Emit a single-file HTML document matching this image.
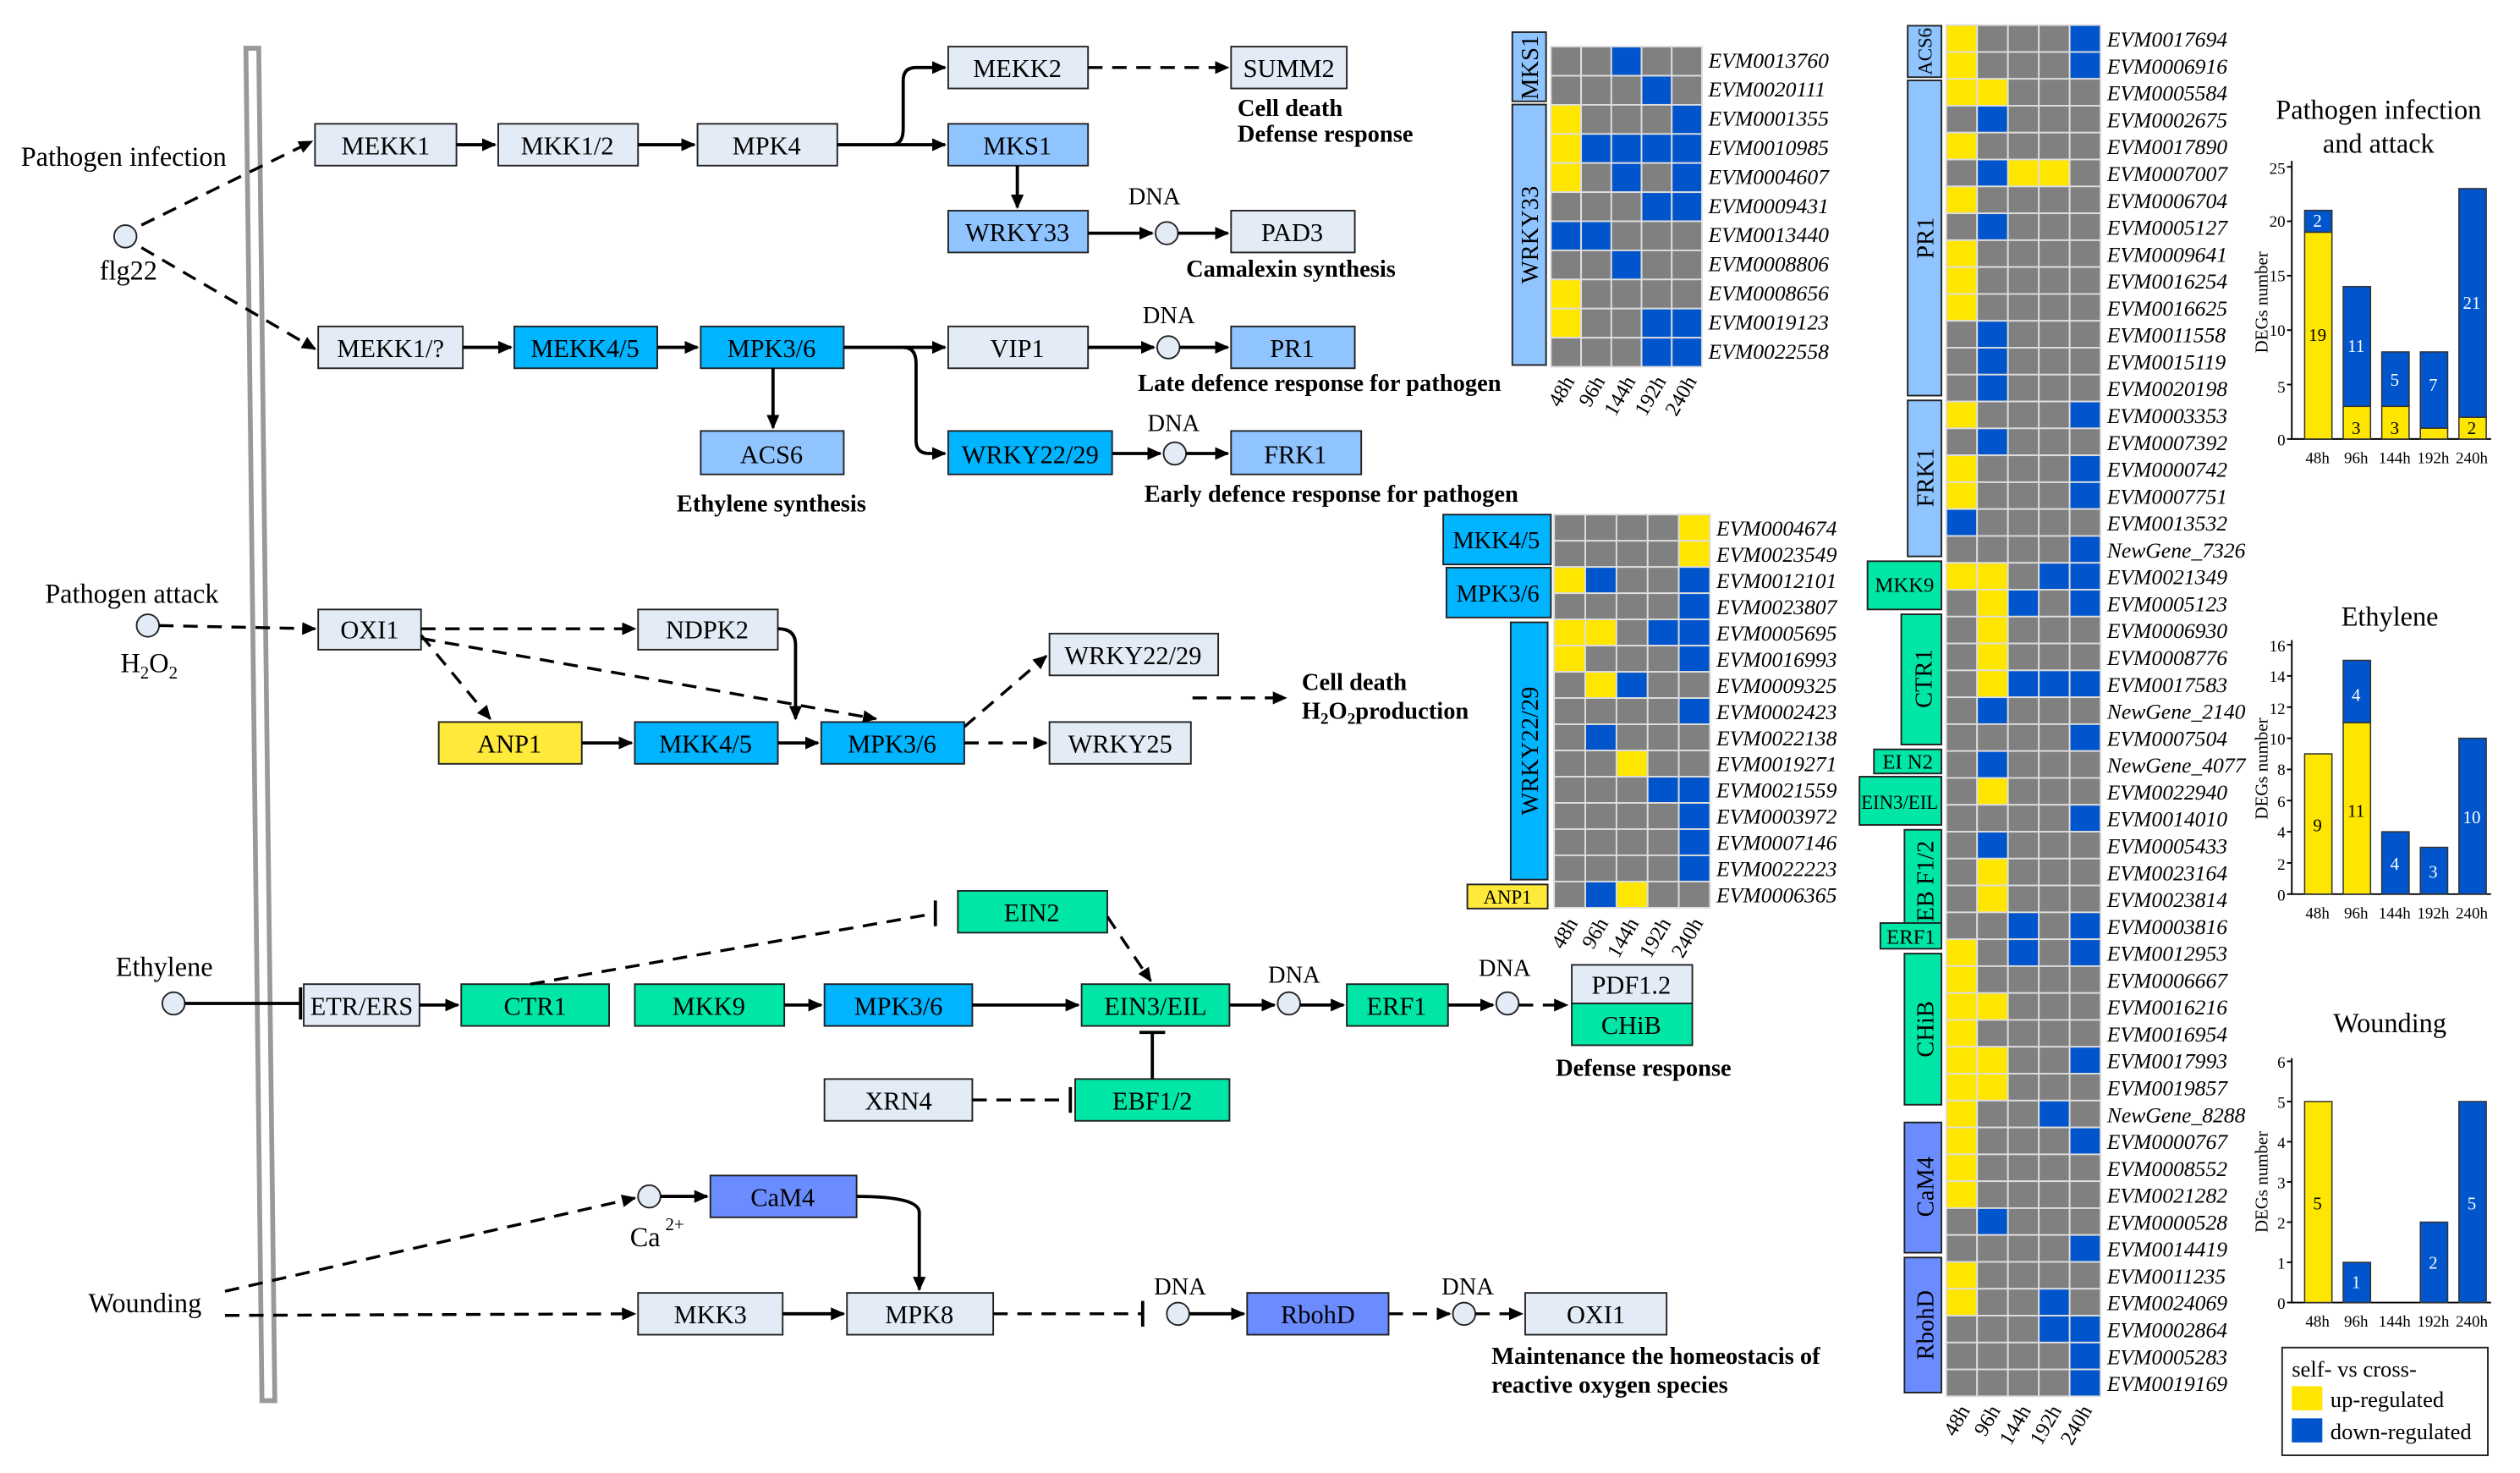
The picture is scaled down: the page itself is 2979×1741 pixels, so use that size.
<!DOCTYPE html>
<html><head><meta charset="utf-8"><style>
html,body{margin:0;padding:0;background:#fff;}
svg{display:block;font-family:"Liberation Serif","Times New Roman",serif;}
text{font-family:"Liberation Serif","Times New Roman",serif;}
.b{stroke:#222;stroke-width:1;}
.L{fill:#e3ebf6}.M{fill:#8fc4ff}.C{fill:#00b4ff}.G{fill:#00e6a6}.Y{fill:#ffe93a}.P{fill:#6b8cff}
.t{font-size:16px;text-anchor:middle;}
.bd{font-size:15px;font-weight:bold;}
.ln{stroke:#000;stroke-width:2;fill:none;}
.ds{stroke:#000;stroke-width:1.8;fill:none;stroke-dasharray:9,6;}
.gn{font-size:13.5px;font-style:italic;}
.tk{font-size:10px;text-anchor:end;}
</style></head><body>
<svg id="s" width="2979" height="1741" viewBox="0 0 1568 916" preserveAspectRatio="none" xmlns="http://www.w3.org/2000/svg" font-family="Liberation Serif, serif">
<defs>
<marker id="a" markerWidth="10" markerHeight="10" refX="8" refY="4" orient="auto" markerUnits="userSpaceOnUse"><path d="M0,0 L9,4 L0,8 z" fill="#000"/></marker>
</defs>
<rect width="1568" height="916" fill="#fff"/>
<path d="M153,30 L163,871 L171,871 L161,30 Z" fill="#fff" stroke="#999" stroke-width="3"/>

<g class="b">
<rect class="L" x="196" y="77" width="88" height="26"/>
<rect class="L" x="310" y="77" width="87" height="26"/>
<rect class="L" x="434" y="77" width="87" height="26"/>
<rect class="L" x="590" y="29" width="87" height="26"/>
<rect class="L" x="766" y="29" width="72" height="26"/>
<rect class="M" x="590" y="77" width="87" height="26"/>
<rect class="M" x="590" y="131" width="87" height="26"/>
<rect class="L" x="766" y="131" width="77" height="26"/>
<rect class="L" x="198" y="203" width="90" height="26"/>
<rect class="C" x="320" y="203" width="89" height="26"/>
<rect class="C" x="436" y="203" width="89" height="26"/>
<rect class="L" x="590" y="203" width="87" height="26"/>
<rect class="M" x="766" y="203" width="77" height="26"/>
<rect class="M" x="436" y="268" width="89" height="27"/>
<rect class="C" x="590" y="268" width="102" height="27"/>
<rect class="M" x="766" y="268" width="81" height="27"/>
<rect class="L" x="198" y="379" width="64" height="25"/>
<rect class="L" x="397" y="379" width="87" height="25"/>
<rect class="L" x="653" y="394" width="105" height="26"/>
<rect class="Y" x="273" y="449" width="89" height="26"/>
<rect class="C" x="395" y="449" width="89" height="26"/>
<rect class="C" x="511" y="449" width="89" height="26"/>
<rect class="L" x="653" y="449" width="88" height="26"/>
<rect class="G" x="596" y="554" width="93" height="26"/>
<rect class="L" x="189" y="612" width="72" height="26"/>
<rect class="G" x="287" y="612" width="92" height="26"/>
<rect class="G" x="395" y="612" width="93" height="26"/>
<rect class="C" x="513" y="612" width="92" height="26"/>
<rect class="G" x="673" y="612" width="92" height="26"/>
<rect class="G" x="838" y="612" width="63" height="26"/>
<rect class="L" x="978" y="600" width="75" height="24"/>
<rect class="G" x="978" y="624" width="75" height="26"/>
<rect class="L" x="513" y="671" width="92" height="26"/>
<rect class="G" x="669" y="671" width="96" height="26"/>
<rect class="P" x="442" y="731" width="91" height="26"/>
<rect class="L" x="397" y="804" width="90" height="26"/>
<rect class="L" x="527" y="804" width="91" height="26"/>
<rect class="P" x="776" y="804" width="88" height="26"/>
<rect class="L" x="949" y="804" width="88" height="26"/>
</g>
<g class="t">
<text x="240" y="96">MEKK1</text><text x="353" y="96">MKK1/2</text><text x="477" y="96">MPK4</text>
<text x="633" y="48">MEKK2</text><text x="802" y="48">SUMM2</text><text x="633" y="96">MKS1</text>
<text x="633" y="150">WRKY33</text><text x="804" y="150">PAD3</text>
<text x="243" y="222">MEKK1/?</text><text x="364" y="222">MEKK4/5</text><text x="480" y="222">MPK3/6</text>
<text x="633" y="222">VIP1</text><text x="804" y="222">PR1</text>
<text x="480" y="288">ACS6</text><text x="641" y="288">WRKY22/29</text><text x="806" y="288">FRK1</text>
<text x="230" y="397">OXI1</text><text x="440" y="397">NDPK2</text><text x="705" y="413">WRKY22/29</text>
<text x="317" y="468">ANP1</text><text x="439" y="468">MKK4/5</text><text x="555" y="468">MPK3/6</text><text x="697" y="468">WRKY25</text>
<text x="642" y="573">EIN2</text><text x="225" y="631">ETR/ERS</text><text x="333" y="631">CTR1</text>
<text x="441" y="631">MKK9</text><text x="559" y="631">MPK3/6</text><text x="719" y="631">EIN3/EIL</text>
<text x="869" y="631">ERF1</text><text x="1015" y="618">PDF1.2</text><text x="1015" y="643">CHiB</text>
<text x="559" y="690">XRN4</text><text x="717" y="690">EBF1/2</text>
<text x="487" y="750">CaM4</text><text x="442" y="823">MKK3</text><text x="572" y="823">MPK8</text>
<text x="820" y="823">RbohD</text><text x="993" y="823">OXI1</text>
</g>

<g fill="#e3ebf6" stroke="#222" stroke-width="1">
<circle cx="78" cy="147" r="7"/><circle cx="726" cy="145" r="7"/><circle cx="727" cy="216" r="7"/>
<circle cx="731" cy="282" r="7"/><circle cx="92" cy="389" r="7"/><circle cx="108" cy="624" r="7"/>
<circle cx="802" cy="624" r="7"/><circle cx="938" cy="624" r="7"/><circle cx="404" cy="744" r="7"/>
<circle cx="733" cy="817" r="7"/><circle cx="911" cy="817" r="7"/>
</g>

<g>
<path class="ds" d="M88,140 L194,88" marker-end="url(#a)"/>
<path class="ds" d="M88,154 L196,217" marker-end="url(#a)"/>
<path class="ln" d="M284,90 L308,90" marker-end="url(#a)"/>
<path class="ln" d="M397,90 L432,90" marker-end="url(#a)"/>
<path class="ln" d="M521,90 L588,90" marker-end="url(#a)"/>
<path class="ln" d="M555,90 Q562,90 562,80 L562,50 Q562,42 570,42 L588,42" marker-end="url(#a)"/>
<path class="ds" d="M677,42 L764,42" marker-end="url(#a)"/>
<path class="ln" d="M633,103 L633,129" marker-end="url(#a)"/>
<path class="ln" d="M677,145 L717,145" marker-end="url(#a)"/>
<path class="ln" d="M733,145 L764,145" marker-end="url(#a)"/>
<path class="ln" d="M288,216 L318,216" marker-end="url(#a)"/>
<path class="ln" d="M409,216 L434,216" marker-end="url(#a)"/>
<path class="ln" d="M525,216 L588,216" marker-end="url(#a)"/>
<path class="ln" d="M481,229 L481,266" marker-end="url(#a)"/>
<path class="ln" d="M562,216 Q570,216 570,226 L570,274 Q570,282 578,282 L588,282" marker-end="url(#a)"/>
<path class="ln" d="M677,216 L718,216" marker-end="url(#a)"/>
<path class="ln" d="M734,216 L764,216" marker-end="url(#a)"/>
<path class="ln" d="M692,282 L722,282" marker-end="url(#a)"/>
<path class="ln" d="M738,282 L764,282" marker-end="url(#a)"/>
<path class="ds" d="M99,389 L196,391" marker-end="url(#a)"/>
<path class="ds" d="M262,391 L395,391" marker-end="url(#a)"/>
<path class="ds" d="M262,395 L305,447" marker-end="url(#a)"/>
<path class="ds" d="M262,397 L545,447" marker-end="url(#a)"/>
<path class="ln" d="M484,391 Q495,391 495,401 L495,447" marker-end="url(#a)"/>
<path class="ln" d="M362,462 L393,462" marker-end="url(#a)"/>
<path class="ln" d="M484,462 L509,462" marker-end="url(#a)"/>
<path class="ds" d="M600,452 L651,408" marker-end="url(#a)"/>
<path class="ds" d="M600,462 L651,462" marker-end="url(#a)"/>
<path class="ds" d="M742,434 L800,434" marker-end="url(#a)"/>
<path class="ln" d="M115,624 L186,624 M187,614 L187,634"/>
<path class="ln" d="M261,625 L285,625" marker-end="url(#a)"/>
<path class="ds" d="M330,612 L582,568"/><path class="ln" d="M582,560 L582,576"/>
<path class="ln" d="M488,625 L511,625" marker-end="url(#a)"/>
<path class="ln" d="M605,625 L671,625" marker-end="url(#a)"/>
<path class="ds" d="M689,570 L716,610" marker-end="url(#a)"/>
<path class="ln" d="M717,671 L717,642 M709,642 L725,642"/>
<path class="ds" d="M605,684 L665,684"/><path class="ln" d="M666,676 L666,692"/>
<path class="ln" d="M765,625 L793,625" marker-end="url(#a)"/>
<path class="ln" d="M809,625 L836,625" marker-end="url(#a)"/>
<path class="ln" d="M901,625 L929,625" marker-end="url(#a)"/>
<path class="ds" d="M945,625 L975,625" marker-end="url(#a)"/>
<path class="ds" d="M140,803 L395,745" marker-end="url(#a)"/>
<path class="ds" d="M140,818 L395,817" marker-end="url(#a)"/>
<path class="ln" d="M411,744 L440,744" marker-end="url(#a)"/>
<path class="ln" d="M533,744 Q572,744 572,754 L572,802" marker-end="url(#a)"/>
<path class="ln" d="M487,817 L525,817" marker-end="url(#a)"/>
<path class="ds" d="M618,817 L710,817"/><path class="ln" d="M711,809 L711,825"/>
<path class="ln" d="M740,817 L774,817" marker-end="url(#a)"/>
<path class="ds" d="M864,817 L902,817" marker-end="url(#a)"/>
<path class="ds" d="M918,817 L947,817" marker-end="url(#a)"/>
</g>

<g style="font-size:17px">
<text x="13" y="103">Pathogen infection</text><text x="62" y="174">flg22</text>
<text x="28" y="375">Pathogen attack</text><text x="75" y="418">H<tspan font-size="11" dy="4">2</tspan><tspan dy="-4">O</tspan><tspan font-size="11" dy="4">2</tspan></text>
<text x="72" y="607">Ethylene</text><text x="55" y="816">Wounding</text>
<text x="392" y="775">Ca</text><text x="414" y="765" font-size="11">2+</text>
</g>
<g style="font-size:15px">
<text x="702" y="127">DNA</text><text x="711" y="201">DNA</text><text x="714" y="268">DNA</text>
<text x="789" y="611">DNA</text><text x="920" y="607">DNA</text><text x="718" y="805">DNA</text><text x="897" y="805">DNA</text>
</g>
<g class="bd">
<text x="770" y="72">Cell death</text><text x="770" y="88">Defense response</text>
<text x="738" y="172">Camalexin synthesis</text><text x="708" y="243">Late defence response for pathogen</text>
<text x="421" y="318">Ethylene synthesis</text><text x="712" y="312">Early defence response for pathogen</text>
<text x="810" y="429">Cell death</text><text x="810" y="447">H<tspan font-size="10" dy="3">2</tspan><tspan dy="-3">O</tspan><tspan font-size="10" dy="3">2</tspan><tspan dy="-3">production</tspan></text>
<text x="968" y="669">Defense response</text>
<text x="928" y="848">Maintenance the homeostacis of</text><text x="928" y="866">reactive oxygen species</text>
</g>

<g id="hm"></g>
<g class="b">
<rect class="M" x="941" y="20" width="21" height="43"/>
<rect class="M" x="941" y="65" width="21" height="162"/>
<rect class="C" x="898" y="320" width="67" height="31"/>
<rect class="C" x="900" y="353" width="65" height="31"/>
<rect class="C" x="940" y="387" width="23" height="160"/>
<rect class="Y" x="913" y="550" width="50" height="15"/>
<rect class="M" x="1187" y="16" width="21" height="32"/>
<rect class="M" x="1187" y="50" width="21" height="196"/>
<rect class="M" x="1187" y="249" width="21" height="97"/>
<rect class="G" x="1162" y="349" width="46" height="30"/>
<rect class="G" x="1183" y="382" width="25" height="81"/>
<rect class="G" x="1166" y="466" width="42" height="15"/>
<rect class="G" x="1157" y="483" width="51" height="30"/>
<rect class="G" x="1185" y="516" width="23" height="64"/>
<rect class="G" x="1170" y="574" width="38" height="16"/>
<rect class="G" x="1185" y="593" width="23" height="94"/>
<rect class="P" x="1185" y="698" width="23" height="81"/>
<rect class="P" x="1185" y="782" width="23" height="84"/>
</g>
<g style="font-size:15px;text-anchor:middle">
<text transform="translate(957,42) rotate(-90)">MKS1</text>
<text transform="translate(957,146) rotate(-90)">WRKY33</text>
<text x="931" y="341">MKK4/5</text><text x="932" y="374">MPK3/6</text>
<text transform="translate(957,467) rotate(-90)">WRKY22/29</text>
<text x="938" y="562" font-size="12">ANP1</text>
<text transform="translate(1202,32) rotate(-90)" font-size="12">ACS6</text>
<text transform="translate(1203,148) rotate(-90)">PR1</text>
<text transform="translate(1203,297) rotate(-90)">FRK1</text>
<text x="1185" y="368" font-size="13">MKK9</text>
<text transform="translate(1202,422) rotate(-90)">CTR1</text>
<text x="1187" y="478" font-size="13">EI N2</text>
<text x="1182" y="503" font-size="12">EIN3/EIL</text>
<text transform="translate(1203,548) rotate(-90)">EB F1/2</text>
<text x="1189" y="587" font-size="13">ERF1</text>
<text transform="translate(1203,640) rotate(-90)">CHiB</text>
<text transform="translate(1203,738) rotate(-90)">CaM4</text>
<text transform="translate(1203,824) rotate(-90)">RbohD</text>
</g>
<text class="gn" x="1063" y="42">EVM0013760<tspan x="1063" dy="18.1">EVM0020111</tspan><tspan x="1063" dy="18.1">EVM0001355</tspan><tspan x="1063" dy="18.1">EVM0010985</tspan><tspan x="1063" dy="18.1">EVM0004607</tspan><tspan x="1063" dy="18.1">EVM0009431</tspan><tspan x="1063" dy="18.1">EVM0013440</tspan><tspan x="1063" dy="18.1">EVM0008806</tspan><tspan x="1063" dy="18.1">EVM0008656</tspan><tspan x="1063" dy="18.1">EVM0019123</tspan><tspan x="1063" dy="18.1">EVM0022558</tspan></text>
<text class="gn" x="1068" y="333">EVM0004674<tspan x="1068" dy="16.3">EVM0023549</tspan><tspan x="1068" dy="16.3">EVM0012101</tspan><tspan x="1068" dy="16.3">EVM0023807</tspan><tspan x="1068" dy="16.3">EVM0005695</tspan><tspan x="1068" dy="16.3">EVM0016993</tspan><tspan x="1068" dy="16.3">EVM0009325</tspan><tspan x="1068" dy="16.3">EVM0002423</tspan><tspan x="1068" dy="16.3">EVM0022138</tspan><tspan x="1068" dy="16.3">EVM0019271</tspan><tspan x="1068" dy="16.3">EVM0021559</tspan><tspan x="1068" dy="16.3">EVM0003972</tspan><tspan x="1068" dy="16.3">EVM0007146</tspan><tspan x="1068" dy="16.3">EVM0022223</tspan><tspan x="1068" dy="16.3">EVM0006365</tspan></text>
<text class="gn" x="1311" y="29">EVM0017694<tspan x="1311" dy="16.72">EVM0006916</tspan><tspan x="1311" dy="16.72">EVM0005584</tspan><tspan x="1311" dy="16.72">EVM0002675</tspan><tspan x="1311" dy="16.72">EVM0017890</tspan><tspan x="1311" dy="16.72">EVM0007007</tspan><tspan x="1311" dy="16.72">EVM0006704</tspan><tspan x="1311" dy="16.72">EVM0005127</tspan><tspan x="1311" dy="16.72">EVM0009641</tspan><tspan x="1311" dy="16.72">EVM0016254</tspan><tspan x="1311" dy="16.72">EVM0016625</tspan><tspan x="1311" dy="16.72">EVM0011558</tspan><tspan x="1311" dy="16.72">EVM0015119</tspan><tspan x="1311" dy="16.72">EVM0020198</tspan><tspan x="1311" dy="16.72">EVM0003353</tspan><tspan x="1311" dy="16.72">EVM0007392</tspan><tspan x="1311" dy="16.72">EVM0000742</tspan><tspan x="1311" dy="16.72">EVM0007751</tspan><tspan x="1311" dy="16.72">EVM0013532</tspan><tspan x="1311" dy="16.72">NewGene_7326</tspan><tspan x="1311" dy="16.72">EVM0021349</tspan><tspan x="1311" dy="16.72">EVM0005123</tspan><tspan x="1311" dy="16.72">EVM0006930</tspan><tspan x="1311" dy="16.72">EVM0008776</tspan><tspan x="1311" dy="16.72">EVM0017583</tspan><tspan x="1311" dy="16.72">NewGene_2140</tspan><tspan x="1311" dy="16.72">EVM0007504</tspan><tspan x="1311" dy="16.72">NewGene_4077</tspan><tspan x="1311" dy="16.72">EVM0022940</tspan><tspan x="1311" dy="16.72">EVM0014010</tspan><tspan x="1311" dy="16.72">EVM0005433</tspan><tspan x="1311" dy="16.72">EVM0023164</tspan><tspan x="1311" dy="16.72">EVM0023814</tspan><tspan x="1311" dy="16.72">EVM0003816</tspan><tspan x="1311" dy="16.72">EVM0012953</tspan><tspan x="1311" dy="16.72">EVM0006667</tspan><tspan x="1311" dy="16.72">EVM0016216</tspan><tspan x="1311" dy="16.72">EVM0016954</tspan><tspan x="1311" dy="16.72">EVM0017993</tspan><tspan x="1311" dy="16.72">EVM0019857</tspan><tspan x="1311" dy="16.72">NewGene_8288</tspan><tspan x="1311" dy="16.72">EVM0000767</tspan><tspan x="1311" dy="16.72">EVM0008552</tspan><tspan x="1311" dy="16.72">EVM0021282</tspan><tspan x="1311" dy="16.72">EVM0000528</tspan><tspan x="1311" dy="16.72">EVM0014419</tspan><tspan x="1311" dy="16.72">EVM0011235</tspan><tspan x="1311" dy="16.72">EVM0024069</tspan><tspan x="1311" dy="16.72">EVM0002864</tspan><tspan x="1311" dy="16.72">EVM0005283</tspan><tspan x="1311" dy="16.72">EVM0019169</tspan></text>
<g style="font-size:13px;text-anchor:end">
<text transform="translate(980,237) rotate(-60)">48h</text><text transform="translate(999,237) rotate(-60)">96h</text><text transform="translate(1018,237) rotate(-60)">144h</text><text transform="translate(1037,237) rotate(-60)">192h</text><text transform="translate(1056,237) rotate(-60)">240h</text>
<text transform="translate(982,574) rotate(-60)">48h</text><text transform="translate(1001,574) rotate(-60)">96h</text><text transform="translate(1020,574) rotate(-60)">144h</text><text transform="translate(1040,574) rotate(-60)">192h</text><text transform="translate(1060,574) rotate(-60)">240h</text>
<text transform="translate(1226,877) rotate(-60)">48h</text><text transform="translate(1245,877) rotate(-60)">96h</text><text transform="translate(1264,877) rotate(-60)">144h</text><text transform="translate(1283,877) rotate(-60)">192h</text><text transform="translate(1302,877) rotate(-60)">240h</text>
</g>

<g id="bars"></g>
<g style="font-size:17px;text-anchor:middle">
<text x="1480" y="74">Pathogen infection</text><text x="1480" y="95">and attack</text>
<text x="1487" y="389">Ethylene</text><text x="1487" y="642">Wounding</text>
</g>
<g style="font-size:11px;text-anchor:middle">
<text transform="translate(1411,188) rotate(-90)">DEGs number</text>
<text transform="translate(1411,478) rotate(-90)">DEGs number</text>
<text transform="translate(1411,735) rotate(-90)">DEGs number</text>
</g>
<g class="tk">
<text x="1422" y="277">0</text><text x="1422" y="244">5</text><text x="1422" y="209">10</text><text x="1422" y="175">15</text><text x="1422" y="141">20</text><text x="1422" y="108">25</text>
<text x="1422" y="560">0</text><text x="1422" y="541">2</text><text x="1422" y="521">4</text><text x="1422" y="502">6</text><text x="1422" y="482">8</text><text x="1422" y="463">10</text><text x="1422" y="444">12</text><text x="1422" y="424">14</text><text x="1422" y="405">16</text>
<text x="1422" y="814">0</text><text x="1422" y="789">1</text><text x="1422" y="764">2</text><text x="1422" y="739">3</text><text x="1422" y="714">4</text><text x="1422" y="689">5</text><text x="1422" y="664">6</text>
</g>
<g style="font-size:10px;text-anchor:middle">
<text x="1442" y="288">48h</text><text x="1466" y="288">96h</text><text x="1490" y="288">144h</text><text x="1514" y="288">192h</text><text x="1538" y="288">240h</text>
<text x="1442" y="571">48h</text><text x="1466" y="571">96h</text><text x="1490" y="571">144h</text><text x="1514" y="571">192h</text><text x="1538" y="571">240h</text>
<text x="1442" y="825">48h</text><text x="1466" y="825">96h</text><text x="1490" y="825">144h</text><text x="1514" y="825">192h</text><text x="1538" y="825">240h</text>
</g>
<g style="font-size:11px;text-anchor:middle">
<text x="1442" y="212">19</text><text x="1442" y="141" fill="#fff">2</text>
<text x="1466" y="270">3</text><text x="1466" y="219" fill="#fff">11</text>
<text x="1490" y="270">3</text><text x="1490" y="240" fill="#fff">5</text>
<text x="1514" y="243" fill="#fff">7</text>
<text x="1538" y="270">2</text><text x="1538" y="192" fill="#fff">21</text>
<text x="1442" y="517">9</text><text x="1466" y="508">11</text><text x="1466" y="436" fill="#fff">4</text>
<text x="1490" y="541" fill="#fff">4</text><text x="1514" y="546" fill="#fff">3</text><text x="1538" y="512" fill="#fff">10</text>
<text x="1442" y="752">5</text><text x="1466" y="801" fill="#fff">1</text><text x="1514" y="789" fill="#fff">2</text><text x="1538" y="752" fill="#fff">5</text>
</g>
<rect x="1420" y="838" width="128" height="67" fill="#fff" stroke="#222" stroke-width="1"/>
<text x="1426" y="856" style="font-size:14px">self- vs cross-</text>
<rect x="1426" y="862" width="19" height="15" fill="#ffe600"/><text x="1450" y="875" style="font-size:14px">up-regulated</text>
<rect x="1426" y="882" width="19" height="15" fill="#0055cc"/><text x="1450" y="895" style="font-size:14px">down-regulated</text>

<script>
(function(){
var NS="http://www.w3.org/2000/svg",hm=document.getElementById("hm"),col={Y:"#ffe600",B:"#0055cc",G:"#808080"};
function heat(x0,y0,cw,ch,rows){rows.forEach(function(r,i){for(var j=0;j<5;j++){var e=document.createElementNS(NS,"rect");e.setAttribute("x",x0+j*cw);e.setAttribute("y",y0+i*ch);e.setAttribute("width",cw);e.setAttribute("height",ch);e.setAttribute("fill",col[r[j]]);e.setAttribute("stroke","#ddd");e.setAttribute("stroke-width","1");hm.appendChild(e);}});}
heat(965,29,18.8,18.1,["GGBGG","GGGBG","YGGGB","YBBBB","YGBGB","GGGBB","BBGGG","GGBGG","YGGGG","YGGBB","GGGBB"]);
heat(967,320,19.4,16.3,["GGGGY","GGGGY","YBGGB","GGGGB","YYGBB","YGGGB","GYBGG","GGGGB","GBGGG","GGYGG","GGGBB","GGGGB","GGGGB","GGGGB","GBYGG"]);
heat(1211,15.6,19.2,16.72,["YGGGB","YGGGB","YYGGG","GBGGG","YGGGG","GBYYG","YGGGG","GBGGG","YGGGG","YGGGG","YGGGG","GBGGG","GBGGG","GBGGG","YGGGB","GBGGG","YGGGB","YGGGB","BGGGG","GGGGB",
"YYGBB","GYBGB","GYGGG","GYGGG","GYBBB","GBGGG","GGGGB","GBGGG","GYGGG","GGGGB","GBGGG","GYGGG","GYGGG","GGBGB","YGBGB","YGGGG","YYGGG","YGGGG","YYGGB","YYGGG","YGGBG",
"YGGGB","YGGGG","YGGGG","GBGGG","GGGGB","YGGGG","YGGBG","GGGBB","GGGGB","GGGGB"]);
var bg=document.getElementById("bars");
function r(x,y,w,h,f,s){var e=document.createElementNS(NS,"rect");e.setAttribute("x",x);e.setAttribute("y",y);e.setAttribute("width",w);e.setAttribute("height",h);e.setAttribute("fill",f);if(s){e.setAttribute("stroke","#333");e.setAttribute("stroke-width","0.8");}bg.appendChild(e);}
function l(d){var e=document.createElementNS(NS,"path");e.setAttribute("d",d);e.setAttribute("stroke","#000");e.setAttribute("fill","none");e.setAttribute("stroke-width","1");bg.appendChild(e);}
function chart(y0,top,ppu,tickStep,nt,data){l("M1426,"+top+" L1426,"+y0+" L1550,"+y0);for(var i=0;i<=nt;i++){var y=y0-i*tickStep*ppu;l("M1423,"+y+" L1426,"+y);}
var xs=[1434,1458,1482,1506,1530];data.forEach(function(d,k){var yb=y0;if(d[0]){r(xs[k],yb-d[0]*ppu,17,d[0]*ppu,"#ffe600",1);yb-=d[0]*ppu;}if(d[1]){r(xs[k],yb-d[1]*ppu,17,d[1]*ppu,"#0055cc",1);}});}
chart(273,100,6.77,5,5,[[19,2],[3,11],[3,5],[1,7],[2,21]]);
chart(556,398,9.69,2,8,[[9,0],[11,4],[0,4],[0,3],[0,10]]);
chart(810,658,25,1,6,[[5,0],[0,1],[0,0],[0,2],[0,5]]);
})();
</script>
</svg>
</body></html>
